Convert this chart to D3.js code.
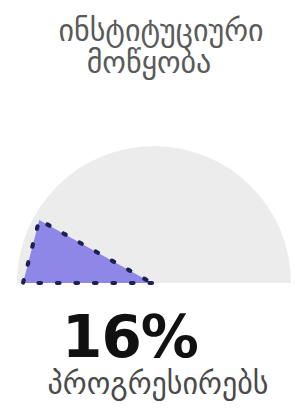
<!DOCTYPE html>
<html>
<head>
<meta charset="utf-8">
<script src="https://cdn.jsdelivr.net/npm/d3@7"></script>
<style>
  body { margin: 0; background: #ffffff; }
  svg { display: block; }
</style>
</head>
<body>
<div id="chart"></div>
<script>
// gauge data
var titleLines = ["ინსტიტუციური", "მოწყობა"];
var gaugeDomain = [0, 100];
var gaugeValue = [16];
var valueLabel = ["16%"];
var statusLabel = ["პროგრესირებს"];

var w = 295;
var h = 418;
var cx = 154, cy = 283; // centre of the half circle
var rBack = 137;        // grey background radius
var rSlice = 131;       // purple slice is a bit smaller

var svg = d3.select("#chart")
    .append("svg")
    .attr("width", w)
    .attr("height", h);

// value -> angle (d3 arc convention, 0 = up)
var angle = d3.scaleLinear()
    .domain(gaugeDomain)
    .range([-Math.PI / 2, Math.PI / 2]);

var g = svg.append("g")
    .attr("transform", "translate(" + cx + "," + cy + ")");

// grey half disc
g.append("path")
    .attr("d", d3.arc()
        .innerRadius(0)
        .outerRadius(rBack)
        .startAngle(angle(gaugeDomain[0]))
        .endAngle(angle(gaugeDomain[1]))())
    .style("fill", "#ececec");

// value slice, drawn as a straight edged wedge
g.selectAll(".slice")
    .data(gaugeValue)
    .enter()
    .append("path")
    .attr("class", "slice")
    .attr("d", function(d) {
        var pts = [
            [-2, 0],
            d3.pointRadial(angle(gaugeDomain[0]), rSlice),
            d3.pointRadial(angle(d), rSlice)
        ];
        return d3.line()(pts) + "Z";
    })
    .style("fill", "#8e87e8")
    .style("stroke", "#1c2150")
    .style("stroke-width", 4.2)
    .style("stroke-linecap", "round")
    .style("stroke-linejoin", "round")
    .style("stroke-dasharray", "2.5,16");

// title
svg.append("g")
    .selectAll("text")
    .data(titleLines)
    .enter()
    .append("text")
    .attr("x", (d, i) => i == 0 ? 161 : 149)
    .attr("y", (d, i) => 41 + i * 32)
    .attr("text-anchor", "middle")
    .style("font-family", "'DejaVu Sans', sans-serif")
    .style("font-size", "30px")
    .style("fill", "#5a5a5a")
    .text(d => d);

// big value
svg.append("text")
    .attr("x", 130)
    .attr("y", 357)
    .attr("text-anchor", "middle")
    .style("font-family", "'DejaVu Sans', sans-serif")
    .style("font-weight", "bold")
    .style("font-size", "58px")
    .style("letter-spacing", "-1px")
    .style("fill", "#111111")
    .text(valueLabel[0]);

// status text
svg.append("text")
    .attr("x", 158)
    .attr("y", 394)
    .attr("text-anchor", "middle")
    .style("font-family", "'DejaVu Sans', sans-serif")
    .style("font-size", "30px")
    .style("fill", "#4a4a4a")
    .text(statusLabel[0]);
</script>
</body>
</html>
